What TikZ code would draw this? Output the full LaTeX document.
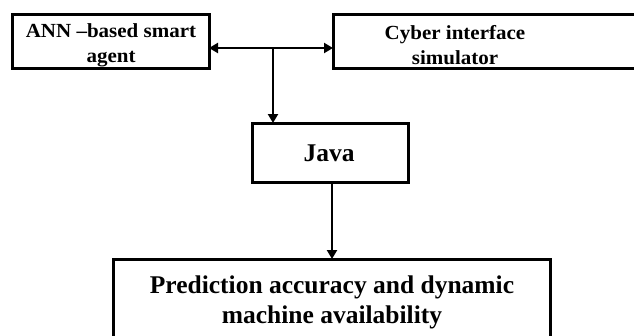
\documentclass[tikz,border=0pt]{standalone}
\usepackage{fontspec}
\usepackage{graphicx}
\setmainfont{Liberation Serif}
\usetikzlibrary{arrows.meta}
\newcommand\widetxt[1]{\scalebox{1.05}[1]{#1}}
\begin{document}
\begin{tikzpicture}[x=1pt,y=-1pt,
  box/.style={draw=black,line width=3pt},
  lbl/.style={font=\bfseries\fontsize{20}{25}\selectfont,align=center,inner sep=0pt},
  big/.style={font=\bfseries\fontsize{25.5}{30}\selectfont,align=center,inner sep=0pt},
  conn/.style={line width=2.6pt,-{Triangle[length=9pt,width=10pt]}}]
\useasboundingbox (0,0) rectangle (634,335);
\begin{scope}
\clip (0,0) rectangle (634,335);
\draw[box] (12,14) rectangle (209,68);
\draw[box] (333,14) rectangle (645,68);
\draw[box] (252,123) rectangle (408,182);
\draw[box] (113,259) rectangle (550,345);
\end{scope}
\coordinate (al) at (209,48);
\coordinate (ar) at (333,48);
\coordinate (jt) at (273,123);
\coordinate (jb) at (332,182);
\coordinate (pt) at (332,259);
\node[lbl] (ann) at (111,45) {\widetxt{ANN –based smart}\\\widetxt{agent}};
\node[lbl] (cyb) at (455,45) {\widetxt{Cyber interface}\\\widetxt{simulator}};
\node[big] (java) at (329,153) {Java};
\node[big] (pred) at (332,302) {Prediction accuracy and dynamic\\machine availability};
\coordinate (mid) at (273,48);
\draw[conn] (mid) -- (al);
\draw[conn] (mid) -- (ar);
\draw[conn] (mid) -- (jt);
\draw[conn] (jb) -- (pt);
\end{tikzpicture}
\end{document}
